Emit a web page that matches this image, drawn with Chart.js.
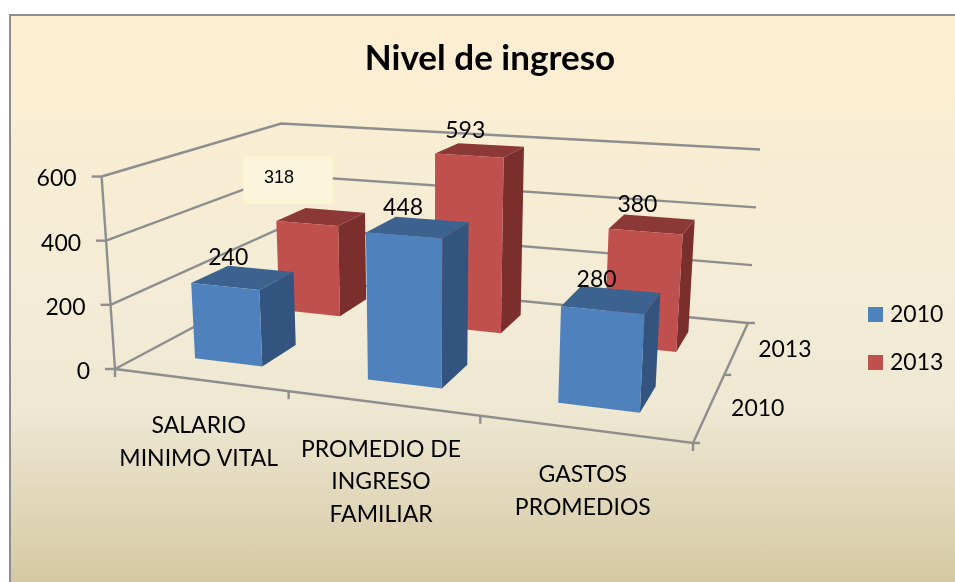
<!DOCTYPE html>
<html>
<head>
<meta charset="utf-8">
<script src="https://cdn.jsdelivr.net/npm/chart.js@4"></script>
<style>
  html, body { margin: 0; height: 100%; background: #fff; overflow: hidden; }
  .frame {
    position: absolute; left: 9px; top: 14px; width: 960px; height: 580px;
    border: 2px solid #8e8e8e;
    background: linear-gradient(to bottom, #fdeed1 0%, #f4ecd6 45%, #eee8d3 68%, #d3c6a0 100%);
  }
  canvas { position: absolute; left: 0; top: 0; }
</style>
</head>
<body>
<div class="frame"></div>
<canvas id="chart" width="955" height="582"></canvas>
<script>
const titleText = 'Nivel de ingreso';
const categories = [
  ['SALARIO', 'MINIMO VITAL'],
  ['PROMEDIO DE', 'INGRESO', 'FAMILIAR'],
  ['GASTOS', 'PROMEDIOS']
];
const years = ['2010', '2013'];
const values2010 = [240, 448, 280];
const values2013 = [318, 593, 380];

const FONT = 'Lato, Carlito, sans-serif';
const AXIS = '#8e8e8e';
const barFaces = [
  { front: '#4f81bd', top: '#3c638f', side: '#32547e' },
  { front: '#c0504d', top: '#8c3836', side: '#7b2f2d' }
];

// floor corners on screen: front-left, front-right, back-right, back-left
const floorQuad = [[115, 369], [693, 443], [748, 323], [286, 278]];
// verticals meet far below the picture, full height grows towards the viewer
const vanish = [430, 4890];
const fullHeight = (x, y) => 0.00038 * x + 0.418 * y + 38.2;
const BAR_DEPTH = 0.4; // share of one depth row

const homography = (q) => {
  const [p0, p1, p2, p3] = q;
  const dx1 = p1[0] - p2[0], dx2 = p3[0] - p2[0], sx = p0[0] - p1[0] + p2[0] - p3[0];
  const dy1 = p1[1] - p2[1], dy2 = p3[1] - p2[1], sy = p0[1] - p1[1] + p2[1] - p3[1];
  const den = dx1 * dy2 - dx2 * dy1;
  const g = (sx * dy2 - dx2 * sy) / den;
  const h = (dx1 * sy - sx * dy1) / den;
  const a = p1[0] - p0[0] + g * p1[0], b = p3[0] - p0[0] + h * p3[0];
  const d = p1[1] - p0[1] + g * p1[1], e = p3[1] - p0[1] + h * p3[1];
  return (u, w) => {
    const s = g * u + h * w + 1;
    return [(a * u + b * w + p0[0]) / s, (d * u + e * w + p0[1]) / s];
  };
};
const onFloor = homography(floorQuad);
// u along categories, w along depth, v along height, all 0..1
const project = (u, w, v) => {
  const f = onFloor(u, w);
  const h = fullHeight(f[0], f[1]) * v;
  const lean = (f[0] - vanish[0]) / (vanish[1] - f[1]);
  return [f[0] + lean * h, f[1] - h];
};

const uOf = (chart, px) => (px - chart.scales.x.left) / chart.scales.x.width;
const vOf = (chart, val) => {
  const y = chart.scales.y;
  return (y.bottom - y.getPixelForValue(val)) / y.height;
};
const wOf = (chart, i) => {
  const z = chart.scales.z;
  return (z.getPixelForValue(i) - z.left) / z.width;
};

const path = (ctx, pts) => {
  ctx.beginPath();
  pts.forEach((p, i) => (i ? ctx.lineTo(p[0], p[1]) : ctx.moveTo(p[0], p[1])));
};
const fillFace = (ctx, pts, color) => {
  path(ctx, pts); ctx.closePath();
  ctx.fillStyle = color; ctx.fill();
};
const line = (ctx, pts) => { path(ctx, pts); ctx.stroke(); };

const text = (ctx, str, x, y, font, align) => {
  ctx.font = font; ctx.fillStyle = '#000';
  ctx.textAlign = align || 'center'; ctx.textBaseline = 'middle';
  ctx.fillText(str, x, y);
};

const barBox = (chart, el, dsIndex) => {
  const u0 = uOf(chart, el.x - el.width / 2), u1 = uOf(chart, el.x + el.width / 2);
  const cell = 1 / years.length;
  const wc = wOf(chart, dsIndex);
  const w0 = wc - cell * BAR_DEPTH / 2, w1 = wc + cell * BAR_DEPTH / 2;
  const v = (chart.scales.y.bottom - el.y) / chart.scales.y.height;
  return { u0, u1, w0, w1, v };
};

const box3d = {
  id: 'box3d',
  afterLayout(chart) {
    const lg = chart.legend;
    lg.left = 847.5; lg.right = 955; lg.top = 278; lg.bottom = 480;
  },
  beforeDatasetsDraw(chart) {
    const { ctx, scales: { x, y, z } } = chart;
    ctx.save();
    ctx.strokeStyle = AXIS; ctx.lineWidth = 2.4;
    // walls
    y.ticks.forEach((t) => {
      const v = vOf(chart, t.value);
      line(ctx, [project(0, 0, v), project(0, 1, v), project(1, 1, v)]);
      const p = project(0, 0, v);
      line(ctx, [p, [p[0] - 10, p[1]]]);
      text(ctx, t.label, p[0] - 25, p[1] + 2.5, '23px ' + FONT, 'right');
    });
    // y axis and floor edges
    line(ctx, [project(0, 0, 0), project(0, 0, 1)]);
    line(ctx, [project(0, 0, 0), project(1, 0, 0), project(1, 1, 0)]);
    const br = project(1, 1, 0);
    line(ctx, [br, [br[0] + 7, br[1]]]);
    // category ticks and labels
    for (let i = 0; i <= categories.length; i++) {
      const p = project(i / categories.length, 0, 0);
      line(ctx, [p, [p[0], p[1] + 8]]);
    }
    categories.forEach((lines, i) => {
      const p = project(uOf(chart, x.getPixelForValue(i)), 0, 0);
      lines.forEach((s, k) => text(ctx, s, p[0] - 1, p[1] + 46 + k * 32.5, '23px ' + FONT));
    });
    // depth ticks and labels
    for (let i = 0; i < years.length; i++) {
      const p = project(1, i / years.length, 0);
      line(ctx, [p, [p[0] + 7, p[1]]]);
    }
    years.forEach((yr, i) => {
      const p = project(1, wOf(chart, i), 0);
      text(ctx, z.getLabelForValue(i), p[0] + 48, p[1] + 2, '23px ' + FONT);
    });
    ctx.restore();
  },
  beforeDatasetDraw(chart, args) {
    const { ctx } = chart;
    const faces = barFaces[args.index];
    args.meta.data.forEach((el) => {
      const b = barBox(chart, el, args.index);
      const fl0 = project(b.u0, b.w0, 0), fr0 = project(b.u1, b.w0, 0), br0 = project(b.u1, b.w1, 0);
      const fl1 = project(b.u0, b.w0, b.v), fr1 = project(b.u1, b.w0, b.v);
      const br1 = project(b.u1, b.w1, b.v), bl1 = project(b.u0, b.w1, b.v);
      fillFace(ctx, [fr0, br0, br1, fr1], faces.side);
      fillFace(ctx, [fl1, fr1, br1, bl1], faces.top);
      fillFace(ctx, [fl0, fr0, fr1, fl1], faces.front);
    });
    return false; // 3d faces replace the flat bar
  },
  afterDatasetsDraw(chart) {
    const { ctx } = chart;
    chart.data.datasets.forEach((ds, di) => {
      chart.getDatasetMeta(di).data.forEach((el, i) => {
        const b = barBox(chart, el, di);
        const c = project((b.u0 + b.u1) / 2, (b.w0 + b.w1) / 2, b.v);
        if (di === 1 && i === 0) {
          // the first 2013 label was moved into a pale callout in the original
          ctx.fillStyle = '#fbf5de'; ctx.strokeStyle = '#fdf9c8'; ctx.lineWidth = 1.5;
          ctx.fillRect(244, 157, 88, 46); ctx.strokeRect(244, 157, 88, 46);
          text(ctx, String(ds.data[i]), 279, 178, '18px "Liberation Sans"');
        } else {
          text(ctx, String(ds.data[i]), c[0] - 15, c[1] - 20, '23px ' + FONT);
        }
      });
    });
  }
};

new Chart(document.getElementById('chart'), {
  type: 'bar',
  data: {
    labels: categories,
    datasets: [
      { label: years[0], data: values2010, backgroundColor: barFaces[0].front, borderWidth: 0, grouped: false },
      { label: years[1], data: values2013, backgroundColor: barFaces[1].front, borderWidth: 0, grouped: false }
    ]
  },
  options: {
    responsive: false,
    animation: false,
    devicePixelRatio: 1,
    categoryPercentage: 0.4,
    barPercentage: 1,
    layout: { padding: { left: 25 } },
    scales: {
      x: { display: false, offset: true },
      z: { type: 'category', axis: 'x', position: 'bottom', labels: years, offset: true, display: false },
      y: { display: false, min: 0, max: 600, ticks: { stepSize: 200 } }
    },
    plugins: {
      title: {
        display: true, text: titleText, color: '#000',
        font: { family: FONT, size: 35, weight: 'bold' },
        padding: { top: 38, bottom: 10 }
      },
      legend: {
        position: 'right', align: 'start',
        labels: {
          usePointStyle: true, pointStyle: 'rect', boxWidth: 6, boxHeight: 15, padding: 25,
          color: '#000', font: { family: FONT, size: 23 }
        }
      },
      tooltip: { enabled: false }
    }
  },
  plugins: [box3d]
});
</script>
</body>
</html>
